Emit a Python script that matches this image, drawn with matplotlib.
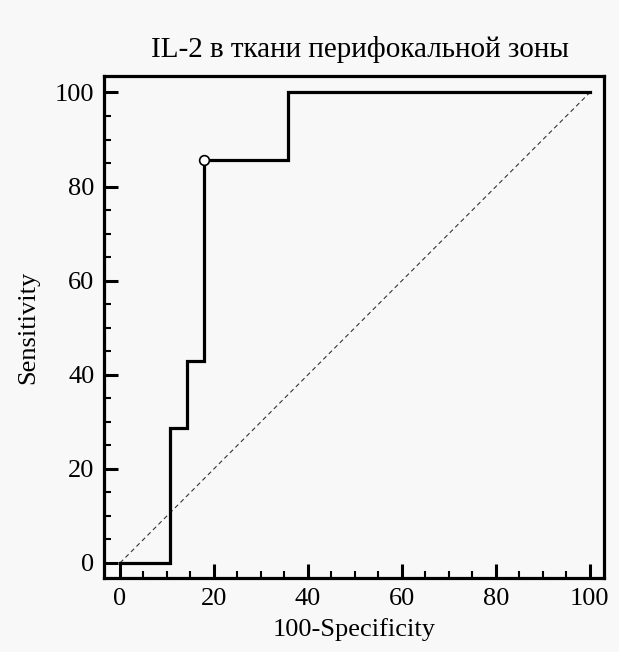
import matplotlib.pyplot as plt
from matplotlib.ticker import MultipleLocator

# ROC curve points (100-Specificity, Sensitivity)
fpr = [0, 10.7, 10.7, 14.3, 14.3, 17.9, 17.9, 35.7, 35.7, 100]
tpr = [0, 0, 28.6, 28.6, 42.9, 42.9, 85.7, 85.7, 100, 100]
cut_x = 17.9
cut_y = 85.7

plt.rcParams['font.family'] = ['Liberation Serif', 'DejaVu Serif']
bg = "#f8f8f8"

fig = plt.figure(figsize=(6.19, 6.52), dpi=100, facecolor=bg)
ax = fig.add_axes([104 / 619, 1 - 578 / 652, 500 / 619, 502 / 652], facecolor=bg)

ax.plot([0, 100], [0, 100], color="#333333", lw=0.8, ls=(0, (4, 3)))
ax.plot(fpr, tpr, color="black", lw=2.3, solid_joinstyle="miter")
ax.plot([cut_x], [cut_y], "o", ms=7, mfc="white", mec="black", mew=1.2)

ax.set_xlim(-3.4, 103)
ax.set_ylim(-3.2, 103.5)
for s in ax.spines.values():
    s.set_linewidth(2.3)

ax.xaxis.set_major_locator(MultipleLocator(20))
ax.xaxis.set_minor_locator(MultipleLocator(5))
ax.yaxis.set_major_locator(MultipleLocator(20))
ax.yaxis.set_minor_locator(MultipleLocator(5))
ax.tick_params(which="major", direction="in", length=10, width=2.2, labelsize=19, pad=7)
ax.tick_params(which="minor", direction="in", length=5, width=1.5)

ax.set_title("IL-2 в ткани перифокальной зоны", fontsize=21, pad=14, x=0.512)
ax.set_xlabel("100-Specificity", fontsize=19, labelpad=6)
ax.set_ylabel("Sensitivity", fontsize=19, labelpad=11)

fig.savefig("out.png", dpi=100, facecolor=bg)
